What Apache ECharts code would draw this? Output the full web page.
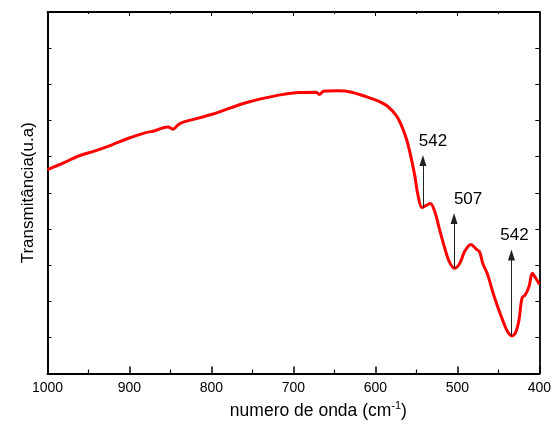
<!DOCTYPE html>
<html>
<head>
<meta charset="utf-8">
<script src="https://cdn.jsdelivr.net/npm/echarts@6/dist/echarts.min.js"></script>
<style>
  html, body { margin: 0; padding: 0; background: #fff; }
  #chart { width: 554px; height: 425px; }
</style>
</head>
<body>
<div id="chart"></div>
<script>
// FTIR spectrum: wavenumber (cm-1) and transmittance (arbitrary units)
var wavenumber = [1000, 979, 963, 942, 922, 902, 882, 870, 853, 847, 841, 836, 799, 758, 718, 694, 672, 668.5, 663, 645, 629, 613, 597, 584.5, 574, 568, 562, 558, 552, 548, 543, 538, 533, 528, 522, 516, 510, 503.5, 497, 491, 483.5, 477, 473, 469, 463, 457, 451, 445, 439, 433.5, 429, 425, 421, 417, 412.5, 408.5, 404.5, 400];
var transmittance = [5.64, 5.84, 6.01, 6.16, 6.32, 6.50, 6.65, 6.71, 6.82, 6.76, 6.87, 6.94, 7.17, 7.49, 7.70, 7.77, 7.78, 7.72, 7.81, 7.82, 7.78, 7.67, 7.54, 7.38, 7.12, 6.85, 6.48, 6.13, 5.48, 4.93, 4.59, 4.65, 4.70, 4.51, 4.01, 3.52, 3.10, 2.91, 3.05, 3.38, 3.57, 3.44, 3.37, 3.05, 2.73, 2.27, 1.86, 1.49, 1.17, 1.04, 1.13, 1.45, 2.09, 2.18, 2.41, 2.77, 2.64, 2.47];

// Band annotations: arrow position, arrow base/tip and the label text
var bandPos = [542, 504, 434];
var bandBase = [4.59, 2.91, 1.04];
var bandTip = [5.89, 4.29, 3.28];
var bandText = ['542', '507', '542'];
var labelOffset = [[10, 0], [14, 0], [3, 0]];

var xTicks = [1000, 900, 800, 700, 600, 500, 400];

var FONT = '"Liberation Sans", Arial, sans-serif';

var markData = bandPos.map(function (p, i) {
  return [
    { coord: [p, bandBase[i]] },
    { coord: [p, bandTip[i]],
      label: { formatter: bandText[i], offset: labelOffset[i] } }
  ];
});

var chart = echarts.init(document.getElementById('chart'), null, { renderer: 'canvas' });

chart.setOption({
  animation: false,
  backgroundColor: '#ffffff',
  grid: { left: 47.5, right: 12, top: 12, bottom: 49 },
  xAxis: [
    {
      type: 'value', inverse: true, min: 400, max: 1000, interval: 100,
      position: 'bottom',
      name: '{n|numero de onda (cm}{s|-1}{n|)}',
      nameLocation: 'middle', nameGap: 27,
      nameTextStyle: {
        padding: [0, 0, 0, 50],
        rich: {
          n: { fontSize: 17.5, fontFamily: FONT, color: '#000' },
          s: { fontSize: 11, fontFamily: FONT, color: '#000', verticalAlign: 'top', padding: [0, 0, 10, 0] }
        }
      },
      axisLine: { onZero: false, lineStyle: { color: '#000', width: 2 } },
      axisTick: { inside: true, length: 7, lineStyle: { color: '#000', width: 1.5 } },
      minorTick: { show: true, splitNumber: 2, length: 4, lineStyle: { color: '#000', width: 1.2 } },
      axisLabel: {
        margin: 8, fontSize: 14, fontFamily: FONT, color: '#000',
        formatter: function (v) { return xTicks.indexOf(v) >= 0 ? String(v) : ''; }
      },
      splitLine: { show: false }
    },
    {
      type: 'value', inverse: true, min: 400, max: 1000, interval: 100,
      position: 'top',
      axisLine: { show: true, onZero: false, lineStyle: { color: '#000', width: 1.8 } },
      axisTick: { show: true, inside: true, length: 4, lineStyle: { color: '#000', width: 1 } },
      minorTick: { show: true, splitNumber: 2, length: 2, lineStyle: { color: '#000', width: 1 } },
      axisLabel: { show: false },
      splitLine: { show: false }
    }
  ],
  yAxis: [
    {
      type: 'value', min: 0, max: 10, interval: 1,
      position: 'left',
      name: 'Transmitância(u.a)',
      nameLocation: 'middle', nameGap: 11,
      nameTextStyle: { fontSize: 17, fontFamily: FONT, color: '#000' },
      axisLine: { show: true, onZero: false, lineStyle: { color: '#000', width: 2 } },
      axisTick: { show: true, inside: true, length: 4, lineStyle: { color: '#000', width: 1 } },
      axisLabel: { show: false },
      splitLine: { show: false }
    },
    {
      type: 'value', min: 0, max: 10, interval: 1,
      position: 'right',
      axisLine: { show: true, onZero: false, lineStyle: { color: '#000', width: 1.8 } },
      axisTick: { show: true, inside: true, length: 4, lineStyle: { color: '#000', width: 1 } },
      axisLabel: { show: false },
      splitLine: { show: false }
    }
  ],
  series: [
    {
      type: 'line',
      data: wavenumber.map(function (w, i) { return [w, transmittance[i]]; }),
      smooth: 0.35,
      showSymbol: false,
      lineStyle: { color: '#ff0000', width: 3 },
      z: 3,
      markLine: {
        silent: true,
        symbol: ['none', 'triangle'],
        symbolSize: [7, 11],
        lineStyle: { color: '#222', width: 1, type: 'solid' },
        label: {
          show: true, position: 'end', distance: 11,
          fontSize: 17, fontFamily: FONT, color: '#000'
        },
        data: markData
      }
    }
  ]
});
</script>
</body>
</html>
